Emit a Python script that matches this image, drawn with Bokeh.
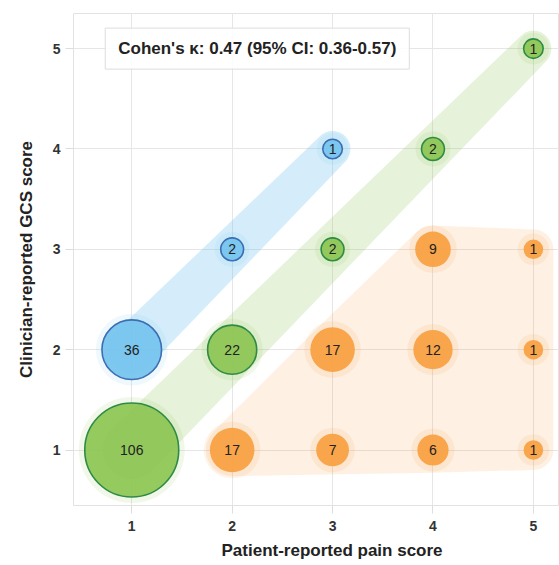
import numpy as np
from bokeh.plotting import figure
from bokeh.models import Range1d, ColumnDataSource, Label, FixedTicker, Title
from bokeh.core.properties import value
from bokeh.embed import file_html
from bokeh.resources import INLINE

# ---- data ----
pain_score = [1, 2, 3, 4, 5, 1, 2, 3, 4, 5, 2, 3, 4, 5, 3, 4, 5]
gcs_score = [1, 1, 1, 1, 1, 2, 2, 2, 2, 2, 3, 3, 3, 3, 4, 4, 5]
counts = [106, 17, 7, 6, 1, 36, 22, 17, 12, 1, 2, 2, 9, 1, 1, 2, 1]
tick_values = [1, 2, 3, 4, 5]
kappa_text = "Cohen's κ: 0.47 (95% CI: 0.36-0.57)"
x_title = "Patient-reported pain score"
y_title = "Clinician-reported GCS score"

# ---- style ----
FONT = "Liberation Sans"
FILL = {"above": "#74C3EE", "agree": "#8DC653", "below": "#F9A040"}
LINE = {"above": "#3C6EB4", "agree": "#2E8B46", "below": "#F9A040"}
BAND_ALPHA = {"above": 0.30, "agree": 0.22, "below": 0.15}
BAND_PAD = {"above": (0.3, 15), "agree": (0.3, 15), "below": (0.5, 15)}

W, H = 559, 565
ML, MR, MT, MB = 73, 0, 13, 60
x0, x1 = 0.42, 5.26
y0, y1 = 0.447, 5.35
sx = (W - ML - MR) / (x1 - x0)
sy = (H - MT - MB) / (y1 - y0)


def group_of(px, gy):
    if gy > px:
        return "above"
    if gy == px:
        return "agree"
    return "below"


groups = [group_of(a, b) for a, b in zip(pain_score, gcs_score)]
radius = [5.8 + 4.0 * np.sqrt(c) for c in counts]

p = figure(width=W, height=H, output_backend="svg", toolbar_location=None,
           x_range=Range1d(x0, x1), y_range=Range1d(y0, y1),
           min_border_left=ML, min_border_right=MR, min_border_top=MT,
           min_border_bottom=MB, background_fill_color="white",
           border_fill_color="white")
p.outline_line_color = "#E2E2E2"
p.outline_line_width = 1


def hull(points):
    pts = sorted(set(points))
    def cross(o, a, b):
        return (a[0] - o[0]) * (b[1] - o[1]) - (a[1] - o[1]) * (b[0] - o[0])
    lower, upper = [], []
    for q in pts:
        while len(lower) >= 2 and cross(lower[-2], lower[-1], q) <= 0:
            lower.pop()
        lower.append(q)
    for q in reversed(pts):
        while len(upper) >= 2 and cross(upper[-2], upper[-1], q) <= 0:
            upper.pop()
        upper.append(q)
    return lower[:-1] + upper[:-1]


t = np.linspace(0, 2 * np.pi, 72, endpoint=False)
for g in ["below", "agree", "above"]:
    k, c0 = BAND_PAD[g]
    pts = []
    for xx, yy, r, gg in zip(pain_score, gcs_score, radius, groups):
        if gg != g:
            continue
        rr = k * r + c0
        for a in t:
            pts.append((round(xx + rr / sx * np.cos(a), 5), round(yy + rr / sy * np.sin(a), 5)))
    hp = hull(pts)
    p.patch([q[0] for q in hp], [q[1] for q in hp], fill_color=FILL[g],
            fill_alpha=BAND_ALPHA[g], line_color=None)

src = ColumnDataSource(dict(
    x=pain_score, y=gcs_score, n=[str(c) for c in counts],
    size=[2 * r for r in radius], halo=[2 * (r + 6) for r in radius],
    fill=[FILL[g] for g in groups], line=[LINE[g] for g in groups],
    lw=[0 if g == "below" else 1.6 for g in groups]))

p.scatter("x", "y", size="halo", source=src, fill_color="fill", fill_alpha=0.12,
          line_color=None)
p.scatter("x", "y", size="size", source=src, fill_color="fill", fill_alpha=0.92,
          line_color="line", line_width="lw")
p.text("x", "y", text="n", source=src, text_align="center", text_baseline="middle",
       text_font=value(FONT), text_font_size="14px", text_color="#222222")

# axes
for ax in (p.xaxis[0], p.yaxis[0]):
    ax.ticker = FixedTicker(ticks=tick_values)
    ax.axis_line_color = None
    ax.major_tick_line_color = "#DDDDDD"
    ax.major_tick_out = 8
    ax.major_tick_in = 0
    ax.minor_tick_line_color = None
    ax.major_label_text_font = FONT
    ax.major_label_text_font_style = "bold"
    ax.major_label_text_font_size = "14px"
    ax.major_label_text_color = "#333333"

p.xaxis.major_label_standoff = 7
p.yaxis.major_label_standoff = 5
p.yaxis.axis_label = y_title
p.yaxis.axis_label_text_font = FONT
p.yaxis.axis_label_text_font_style = "bold"
p.yaxis.axis_label_text_font_size = "17px"
p.yaxis.axis_label_text_color = "#222222"
p.yaxis.axis_label_standoff = 14

p.xgrid.ticker = FixedTicker(ticks=tick_values)
p.ygrid.ticker = FixedTicker(ticks=tick_values)
p.xgrid.grid_line_color = "#E6E6E6"
p.ygrid.grid_line_color = "#E6E6E6"

# x-axis title centred under x = 3 (the reference panel extends past the crop)
p.add_layout(Title(text=x_title, align="left", offset=148, standoff=10,
                   text_font=FONT, text_font_style="bold", text_font_size="17px",
                   text_color="#222222"), "below")

p.add_layout(Label(x=2.25, y=5, text=kappa_text, text_align="center",
                   text_baseline="middle", text_font=FONT, text_font_style="bold",
                   text_font_size="17px", text_color="#222222",
                   background_fill_color="white", background_fill_alpha=0.85,
                   border_line_color="#DDDDDD", border_line_width=1,
                   padding=dict(left=13, right=13, top=11, bottom=11)))

open("out.html", "w").write(file_html(p, INLINE))
